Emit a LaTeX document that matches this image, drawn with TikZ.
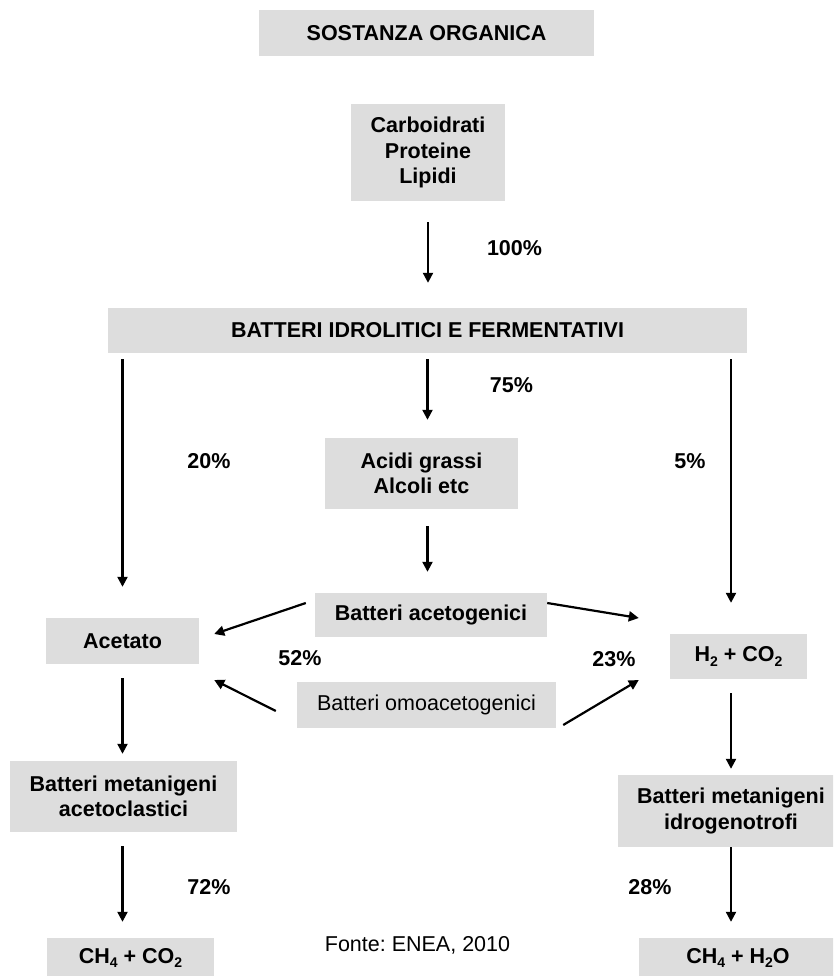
\documentclass[tikz,border=0pt]{standalone}
\usepackage{fontspec}
\setmainfont{Liberation Sans}
\usetikzlibrary{arrows.meta,calc}
\definecolor{boxgray}{HTML}{DDDDDD}
\newcommand{\lowsub}[1]{\raisebox{-4.5pt}{\fontsize{14}{14}\selectfont #1}}
\frenchspacing
\begin{document}
\begin{tikzpicture}[x=1pt,y=-1pt,
  every node/.style={font=\fontsize{21.5}{25.5}\selectfont},
  box/.style={fill=boxgray,draw=none,inner sep=0pt,align=center,font=\fontsize{21.5}{25.5}\selectfont\bfseries},
  plainbox/.style={box,font=\fontsize{21.5}{25.5}\selectfont},
  pct/.style={inner sep=0pt,font=\fontsize{21.5}{25.5}\selectfont\bfseries},
  flow/.style={line width=2.2pt,-{Triangle[length=10pt,width=10pt]}}
]
\useasboundingbox (0,0) rectangle (833,976);
\clip (0,0) rectangle (833,976);

\node[box,minimum width=335,minimum height=46] (so) at (426.5,33) {SOSTANZA ORGANICA};
\node[box,minimum width=154,minimum height=97] (cpl) at (428,152.5) {Carboidrati\\Proteine\\Lipidi};
\node[box,minimum width=639,minimum height=45] (bif) at (427.5,330.5) {BATTERI IDROLITICI E FERMENTATIVI};
\node[box,minimum width=193,minimum height=71] (ag) at (421.5,473.5) {Acidi grassi\\Alcoli etc};
\node[box,minimum width=232,minimum height=44] (ba) at (431,615) {Batteri acetogenici};
\node[box,minimum width=153,minimum height=46] (ac) at (122.5,641) {Acetato};
\node[box,minimum width=137,minimum height=45] (h2) at (738.5,656.5) {H\lowsub{2} + CO\lowsub{2}};
\node[plainbox,minimum width=259,minimum height=46] (bo) at (426.5,705) {Batteri omoacetogenici};
\node[box,minimum width=227,minimum height=71] (bma) at (123.5,796.5) {Batteri metanigeni\\acetoclastici};
\node[box,minimum width=226,minimum height=72] (bmi) at (731,811) {Batteri metanigeni\\idrogenotrofi};
\node[box,minimum width=167,minimum height=40] (cc) at (130.5,958) {CH\lowsub{4} + CO\lowsub{2}};
\node[box,minimum width=198,minimum height=40] (ch) at (738,958) {CH\lowsub{4} + H\lowsub{2}O};

\node[pct] (p100) at (514.5,248) {100\%};
\node[pct] (p75) at (511.5,385) {75\%};
\node[pct] (p20) at (209,461) {20\%};
\node[pct] (p5) at (690,461) {5\%};
\node[pct] (p52) at (300,658) {52\%};
\node[pct] (p23) at (614,659) {23\%};
\node[pct] (p72) at (209,887) {72\%};
\node[pct] (p28) at (650,887) {28\%};
\node[inner sep=0pt] (fonte) at (417.5,945) {Fonte: ENEA, 2010};

% vertical flows
\draw[flow,shorten <=21pt,shorten >=25pt] (cpl.south) -- (cpl.south |- bif.north);
\draw[flow,shorten <=6pt,shorten >=31pt] (bif.south -| ac) -- (ac.north);
\draw[flow,shorten <=6pt,shorten >=18pt] (bif.south) -- (bif.south |- ag.north);
\draw[flow,shorten <=6pt,shorten >=31pt] (bif.south -| bmi) -- (h2.north -| bmi);
\draw[flow,shorten <=17pt,shorten >=21pt] (ag.south -| bif.south) -- (ba.north -| bif.south);
\draw[flow,shorten <=14pt,shorten >=7pt] (ac.south) -- (ac.south |- bma.north);
\draw[flow,shorten <=14pt,shorten >=6pt] (h2.south -| bmi) -- (bmi.north);
\draw[flow,shorten <=14pt,shorten >=16pt] (bma.south -| ac) -- (cc.north -| ac);
\draw[flow,shorten <=0pt,shorten >=16pt] (bmi.south) -- (cc.north -| bmi);

% diagonal flows
\draw[flow] ($(ba.west)+(-9,-12)$) -- ($(ac.east)+(15,-7)$);
\draw[flow] ($(ba.east)+(0,-12)$) -- ($(h2.west)+(-31,-38.5)$);
\draw[flow] ($(bo.west)+(-21,6)$) -- ($(ac.east)+(15,39)$);
\draw[flow] ($(bo.east)+(7,20)$) -- ($(h2.west)+(-31,23.5)$);
\end{tikzpicture}
\end{document}
